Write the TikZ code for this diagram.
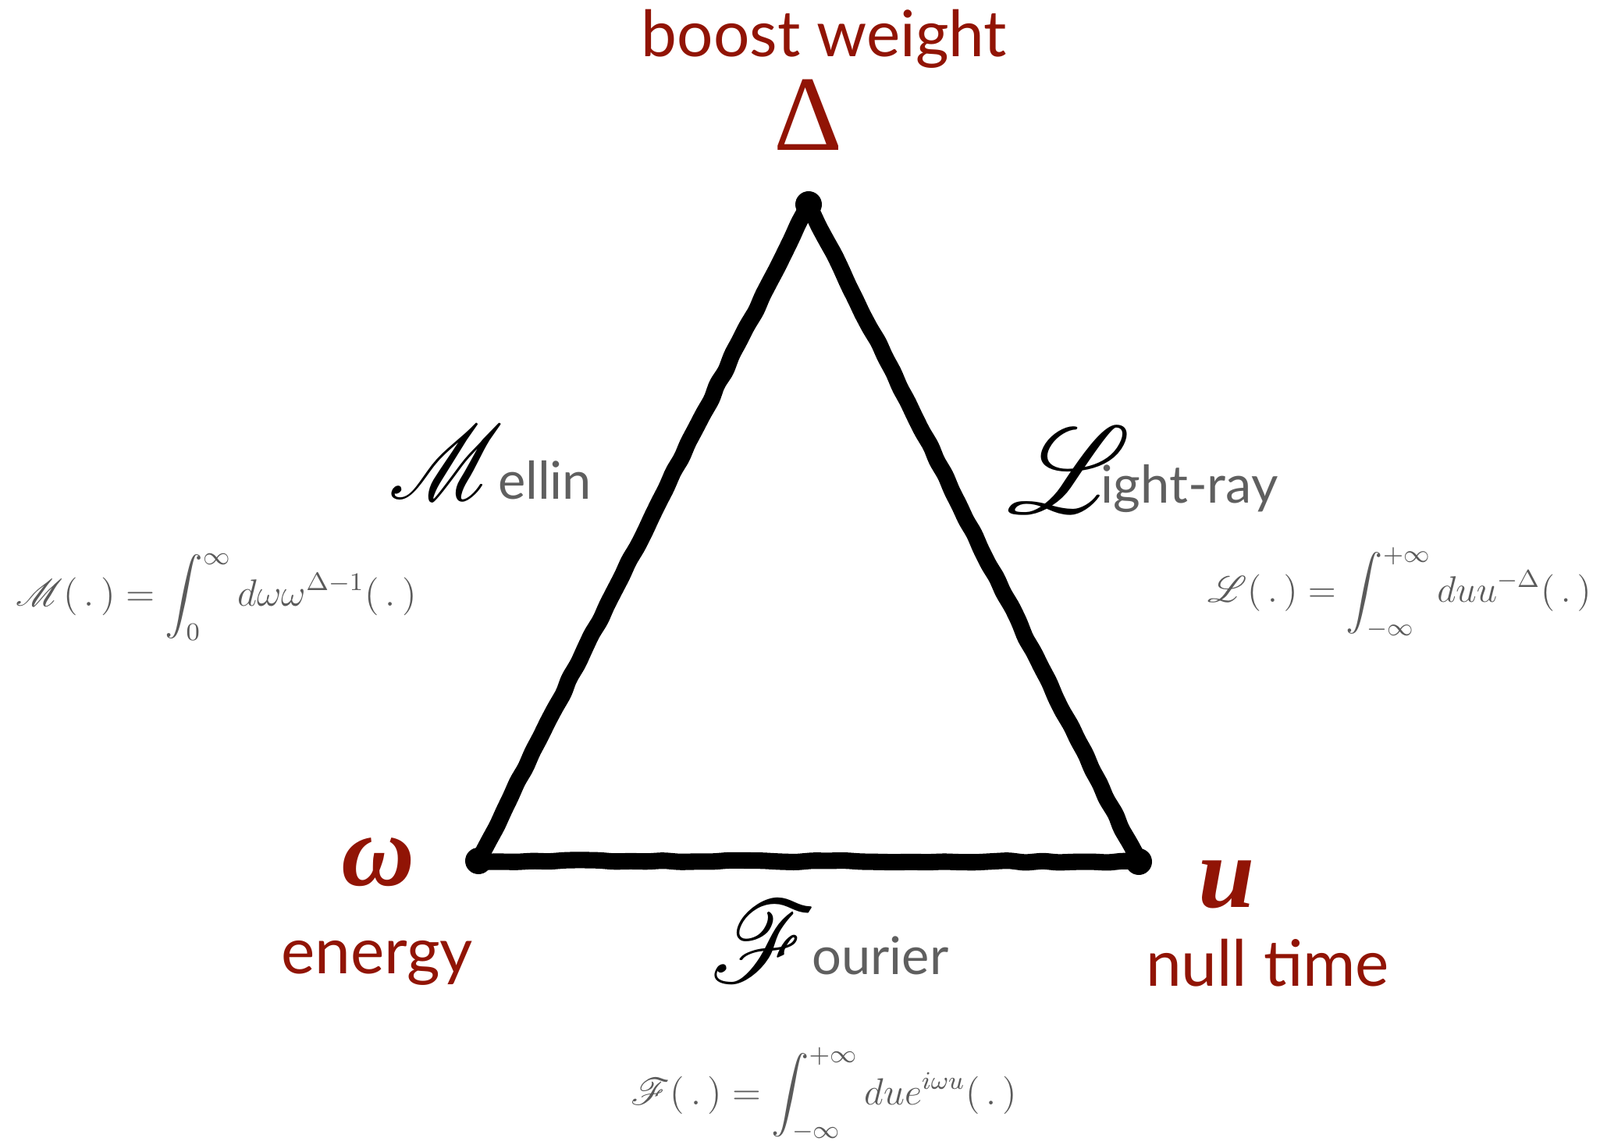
\documentclass[tikz,border=0pt]{standalone}
\usepackage{amsmath}
\usepackage{mathrsfs}
\usepackage[no-math]{fontspec}
\setmainfont{Lato}
\newfontfamily\timesfont{Liberation Serif}
\usetikzlibrary{positioning,decorations.pathmorphing}
\definecolor{deepred}{RGB}{145,20,5}
\definecolor{txtgray}{RGB}{95,95,95}
\definecolor{mathgray}{RGB}{90,90,90}

\tikzset{
  edge/.style={line width=6pt, line join=round, line cap=round,
    decorate, decoration={random steps, segment length=6pt, amplitude=0.4pt},
    rounded corners=1.5pt},
  redlabel/.style={text=deepred, font=\fontsize{23.3}{28}\selectfont, inner sep=0pt},
  varlabel/.style={text=deepred, inner sep=0pt},
  translabel/.style={inner sep=0pt, anchor=base west},
  formula/.style={text=mathgray, inner sep=0pt, anchor=base west,
    font=\fontsize{12}{14}\selectfont, transform shape}
}
% big script capital: x-scale, y-scale, letter
\newcommand{\bigscr}[3]{\scalebox{#1}[#2]{\fontsize{24.88}{26}\selectfont$\mathscr{#3}$}}
\newcommand{\namesize}{\fontsize{19}{23}\selectfont}

\begin{document}
\begin{tikzpicture}
  \useasboundingbox (0,0) rectangle (20.5,14.66);

  %% vertices of the triangle
  \coordinate (delta) at (10.36,12.04);
  \coordinate (omega) at (6.13,3.63);
  \coordinate (u) at (14.59,3.62);

  %% the triangle
  \draw[edge] (delta) -- (omega) -- (u) -- cycle;
  \foreach \v in {delta,omega,u}{
    \fill (\v) circle (0.17);
  }

  %% variables and their names
  \node[redlabel, anchor=base] (boost) at (10.56,13.93) {boost weight};
  \node[varlabel, anchor=base, font=\timesfont\fontsize{39}{40}\selectfont]
    (deltalbl) at (10.36,12.73) {Δ};
  \node[varlabel, font=\timesfont\bfseries\itshape\fontsize{37}{40}\selectfont]
    (omegalbl) at (4.85,3.61) {ω};
  \node[redlabel, anchor=base] (energy) at (4.83,2.19) {energy};
  \node[varlabel, font=\timesfont\bfseries\itshape\fontsize{37}{40}\selectfont]
    (ulbl) at (15.72,3.33) {u};
  \node[redlabel, anchor=base] (nulltime) at (16.24,2.03) {null time};

  %% names of the transforms
  \node[translabel] (mellin) at (4.98,8.26)
    {\bigscr{1.35}{1.55}{M}\hspace{-2pt}{\namesize\color{txtgray}ellin}};
  \node[translabel] (lightray) at (12.90,8.21)
    {\raisebox{-0.13cm}{\bigscr{1.7}{1.8}{L}}\hspace{-11pt}{\namesize\color{txtgray}ight-ray}};
  \node[translabel] (fourier) at (9.10,2.18)
    {\raisebox{-0.1cm}{\bigscr{1.5}{1.7}{F}}\hspace{-1.6pt}{\namesize\color{txtgray}ourier}};

  %% the transforms
  \node[formula, scale=1.153] (mellinf) at (0.20,6.89)
    {$\displaystyle \mathscr{M}(\,.\,) = \int_0^\infty d\omega\omega^{\Delta-1}(\,.\,)$};
  \node[formula, scale=1.12] (lightf) at (15.47,6.94)
    {$\displaystyle \mathscr{L}(\,.\,) = \int_{-\infty}^{+\infty} duu^{-\Delta}(\,.\,)$};
  \node[formula, scale=1.146] (fourierf) at (8.08,0.51)
    {$\displaystyle \mathscr{F}(\,.\,) = \int_{-\infty}^{+\infty} due^{i\omega u}(\,.\,)$};
\end{tikzpicture}
\end{document}
